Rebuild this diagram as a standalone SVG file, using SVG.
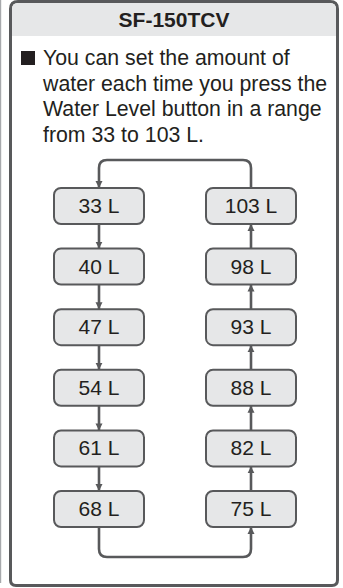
<svg xmlns="http://www.w3.org/2000/svg" width="343" height="588" viewBox="0 0 343 588">
  <defs>
    <marker id="ah" markerUnits="userSpaceOnUse" markerWidth="8" markerHeight="8" refX="7" refY="4" orient="auto">
      <path d="M0,0.5 L7,4 L0,7.5 z" fill="#58595b"/>
    </marker>
  </defs>
  <style>
    .frame { fill: #ffffff; stroke: #58595b; stroke-width: 3; }
    .hdr { fill: #e6e7e8; }
    .title { font-family: "Liberation Sans", Arial, sans-serif; font-weight: bold; font-size: 21px; fill: #231f20; text-anchor: middle; }
    .body { font-family: "Liberation Sans", Arial, sans-serif; font-size: 21.3px; fill: #231f20; }
    .box rect { fill: #e6e7e8; stroke: #58595b; stroke-width: 2; }
    .box text { font-family: "Liberation Sans", Arial, sans-serif; font-size: 21px; fill: #231f20; text-anchor: middle; }
    .conn path { fill: none; stroke: #58595b; stroke-width: 2.6; marker-end: url(#ah); }
  </style>

  <line x1="0.6" y1="0" x2="0.6" y2="583" stroke="#a7a9ac" stroke-width="1.2"/>

  <g id="panel">
    <path class="frame" d="M10.5,9 Q10.5,1.5 18,1.5 H330 Q337.5,1.5 337.5,9 V580 Q337.5,585.5 332,585.5 H16 Q10.5,585.5 10.5,580 Z"/>
    <path class="hdr" d="M12,9 Q12,3 18,3 H330 Q336,3 336,9 V36 H12 Z"/>
    <text class="title" x="174" y="27">SF-150TCV</text>
    <rect x="21" y="51" width="14" height="14" fill="#231f20"/>
    <text class="body" x="43" y="65">You can set the amount of</text>
    <text class="body" x="43" y="90.5">water each time you press the</text>
    <text class="body" x="43" y="116">Water Level button in a range</text>
    <text class="body" x="43" y="141.5">from 33 to 103 L.</text>
  </g>

  <g id="connectors" class="conn">
    <path d="M99,224 V248.6"/>
    <path d="M99,284.6 V309.2"/>
    <path d="M99,345.2 V369.8"/>
    <path d="M99,405.8 V430.4"/>
    <path d="M99,466.4 V491"/>
    <path d="M99,527 V549 Q99,557 107,557 H243 Q251,557 251,549 V527"/>
    <path d="M251,491 V466.4"/>
    <path d="M251,430.4 V405.8"/>
    <path d="M251,369.8 V345.2"/>
    <path d="M251,309.2 V284.6"/>
    <path d="M251,248.6 V224"/>
    <path d="M251,188 V168 Q251,160 243,160 H107 Q99,160 99,168 V188"/>
  </g>

  <g id="n33" class="box"><rect x="54" y="188" width="90" height="36" rx="7"/><text x="99" y="213">33 L</text></g>
  <g id="n40" class="box"><rect x="54" y="248.6" width="90" height="36" rx="7"/><text x="99" y="273.6">40 L</text></g>
  <g id="n47" class="box"><rect x="54" y="309.2" width="90" height="36" rx="7"/><text x="99" y="334.2">47 L</text></g>
  <g id="n54" class="box"><rect x="54" y="369.8" width="90" height="36" rx="7"/><text x="99" y="394.8">54 L</text></g>
  <g id="n61" class="box"><rect x="54" y="430.4" width="90" height="36" rx="7"/><text x="99" y="455.4">61 L</text></g>
  <g id="n68" class="box"><rect x="54" y="491" width="90" height="36" rx="7"/><text x="99" y="516">68 L</text></g>

  <g id="n103" class="box"><rect x="206" y="188" width="90" height="36" rx="7"/><text x="251" y="213">103 L</text></g>
  <g id="n98" class="box"><rect x="206" y="248.6" width="90" height="36" rx="7"/><text x="251" y="273.6">98 L</text></g>
  <g id="n93" class="box"><rect x="206" y="309.2" width="90" height="36" rx="7"/><text x="251" y="334.2">93 L</text></g>
  <g id="n88" class="box"><rect x="206" y="369.8" width="90" height="36" rx="7"/><text x="251" y="394.8">88 L</text></g>
  <g id="n82" class="box"><rect x="206" y="430.4" width="90" height="36" rx="7"/><text x="251" y="455.4">82 L</text></g>
  <g id="n75" class="box"><rect x="206" y="491" width="90" height="36" rx="7"/><text x="251" y="516">75 L</text></g>
</svg>
